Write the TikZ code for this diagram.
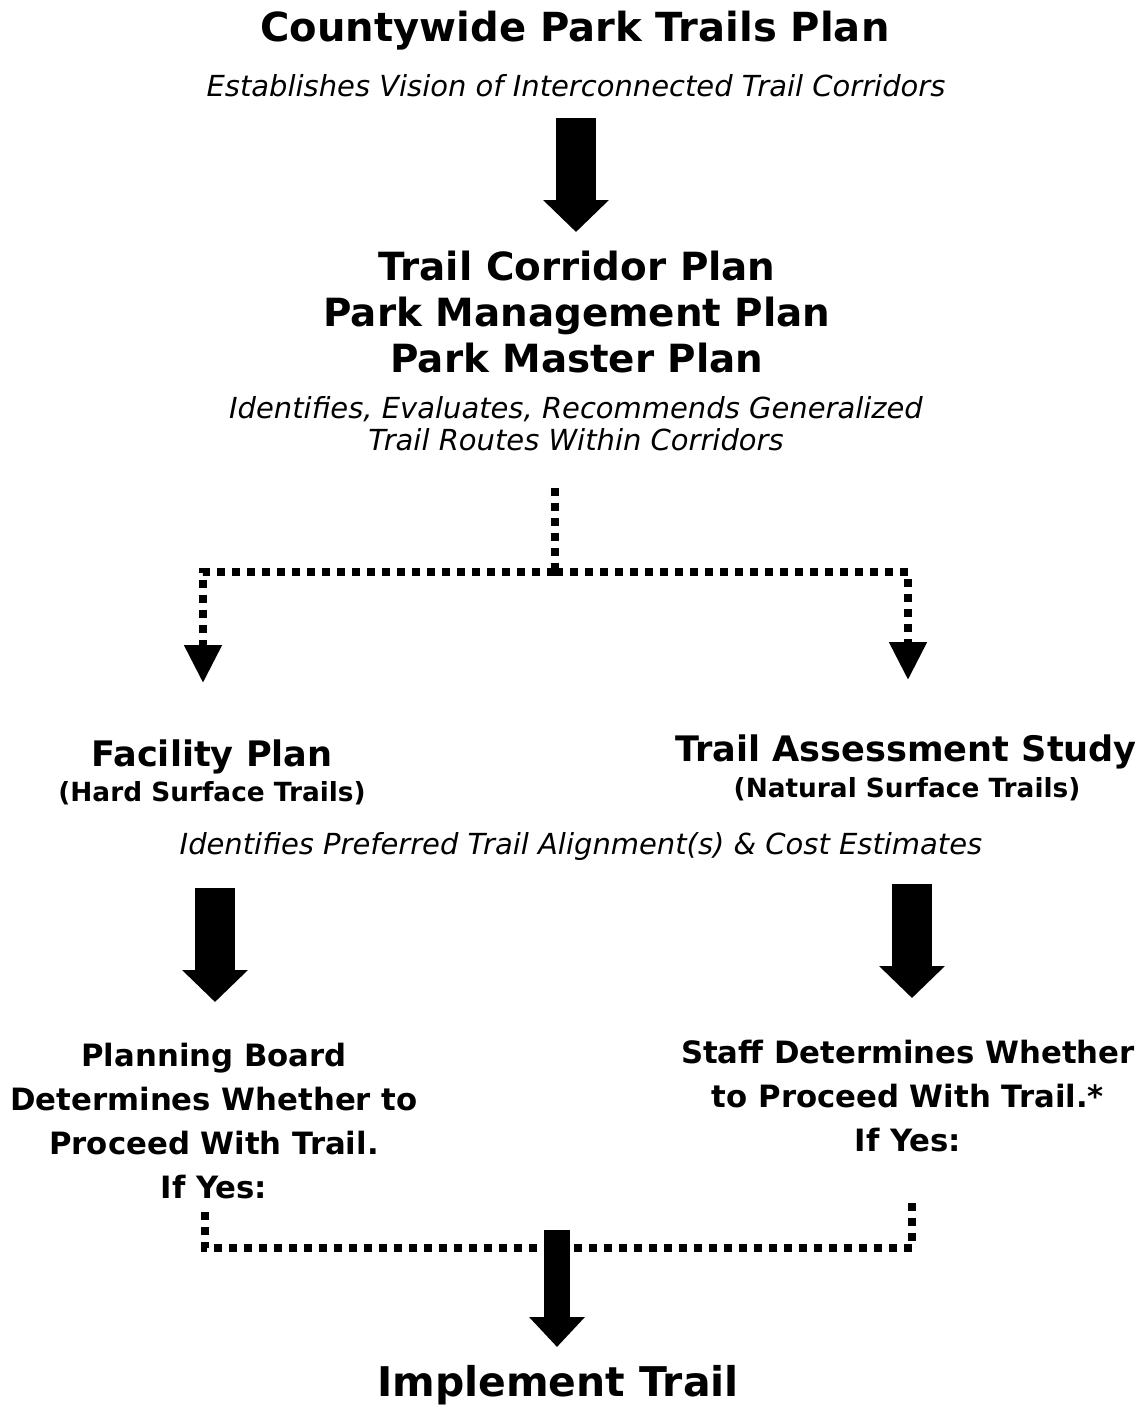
\documentclass[tikz,border=0pt]{standalone}
\usepackage{fontspec}
\setmainfont{DejaVu Sans}
\usetikzlibrary{arrows.meta, positioning}

\tikzset{
  heading/.style={font=\bfseries\fontsize{20}{26}\selectfont, align=center, inner sep=0pt},
  subhead/.style={font=\bfseries\fontsize{15}{18}\selectfont, align=center, inner sep=0pt},
  note/.style={font=\itshape\fontsize{16.5}{18.2}\selectfont, align=center, inner sep=0pt},
  bigarrow/.style={line width=0.8cm, -{Triangle[width=1.28cm,length=0.64cm]}},
  dotarrow/.style={line width=0.16cm, dash pattern=on 0.16cm off 0.14cm},
}

\begin{document}
\begin{tikzpicture}[x=0.02cm, y=-0.02cm]
\useasboundingbox (0,0) rectangle (1142,1410);

% top of the chart
\node[heading, font=\bfseries\fontsize{22.8}{28}\selectfont] (county) at (575,31) {Countywide Park Trails Plan};
\node[note] (vision) at (576,86) {Establishes Vision of Interconnected Trail Corridors};
\node[heading, font=\bfseries\fontsize{22.1}{26.4}\selectfont] (plans) at (577,312)
  {Trail Corridor Plan\\Park Management Plan\\Park Master Plan};
\node[note] (ident) at (576,424) {Identifies, Evaluates, Recommends Generalized\\Trail Routes Within Corridors};

% the two studies
\node[heading] (facility) at (212,757) {Facility Plan};
\node[subhead] (hard) at (212,793) {(Hard Surface Trails)};
\node[heading] (assess) at (906,752) {Trail Assessment Study};
\node[subhead] (natural) at (907,789) {(Natural Surface Trails)};
\node[note] (prefer) at (581,846) {Identifies Preferred Trail Alignment(s) \& Cost Estimates};

% decisions
\node[heading, font=\bfseries\fontsize{17.5}{25}\selectfont] (board) at (214,1121)
  {Planning Board\\Determines Whether to\\Proceed With Trail.\\If Yes:};
\node[heading, font=\bfseries\fontsize{17.5}{25}\selectfont] (staff) at (908,1096)
  {Staff Determines Whether\\to Proceed With Trail.*\\If Yes:};
\node[heading, font=\bfseries\fontsize{23.3}{28}\selectfont] (impl) at (558,1385) {Implement Trail};

% arrow ends
\coordinate (a1s) at (576,118);  \coordinate (a1e) at (576,232);
\coordinate (split) at (555,572); \coordinate (stop) at (555,488);
\coordinate (ltip) at (203,683); \coordinate (rtip) at (908,680);
\coordinate (a2s) at (215,888);  \coordinate (a2e) at (215,1002);
\coordinate (a3s) at (912,884);  \coordinate (a3e) at (912,998);
\coordinate (lyes) at (205,1212); \coordinate (ryes) at (912,1200);
\coordinate (join) at (557,1248);
\coordinate (a4s) at (557,1230); \coordinate (a4e) at (557,1347);

\draw[bigarrow] (a1s) -- (a1e);
\draw[dotarrow] (stop) -- (split);
\draw[dotarrow, -{Triangle[width=0.72cm,length=0.76cm]}] (split) -| (ltip);
\draw[dotarrow, -{Triangle[width=0.72cm,length=0.76cm]}] (split) -| (rtip);
\draw[bigarrow] (a2s) -- (a2e);
\draw[bigarrow] (a3s) -- (a3e);
\draw[dotarrow] (lyes) -- (lyes |- join) -- (ryes |- join) -- (ryes);
\draw[line width=0.52cm, -{Triangle[width=1.08cm,length=0.6cm]}] (a4s) -- (a4e);
\end{tikzpicture}
\end{document}
